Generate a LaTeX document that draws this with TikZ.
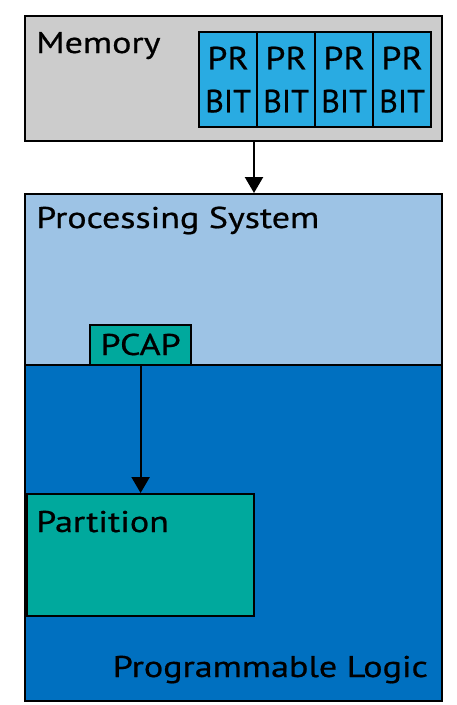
\documentclass[tikz,border=0pt]{standalone}
\usepackage{fontspec}
\setmainfont{PT Sans}[FakeBold=0.6]
\usetikzlibrary{arrows.meta}
\definecolor{memgray}{HTML}{CCCCCC}
\definecolor{bitblue}{HTML}{29ABE2}
\definecolor{psblue}{HTML}{9DC3E5}
\definecolor{plblue}{HTML}{0070C0}
\definecolor{teal}{HTML}{00A99D}
% horizontally widened lettering
\newcommand\widetxt[1]{\scalebox{1.2}[1]{#1}}
\tikzset{
  blk/.style={draw=black, line width=2.2pt, anchor=north west, inner sep=0pt},
  lbl/.style={font=\fontsize{30}{32}\selectfont, inner sep=0pt, text=black},
  bitcell/.style={blk, fill=bitblue, minimum width=58pt, minimum height=95pt,
    font=\fontsize{32}{43}\selectfont, align=center},
  flow/.style={line width=2.2pt, -{Triangle[width=18pt,length=16pt]}}
}
\begin{document}
\begin{tikzpicture}[x=1pt,y=-1pt]
  \useasboundingbox (0,0) rectangle (456,705);
  % memory with the partial bitstreams
  \node[blk, fill=memgray, minimum width=417pt, minimum height=125pt] (mem) at (24,15) {};
  \node[lbl, anchor=base west] (memlbl) at (36,53) {\widetxt{Memory}};
  \foreach \i in {0,...,3} {
    \node[bitcell] (bit\i) at (198+58*\i,31) {\scalebox{1.12}[1]{PR}\\BIT};
  }
  % processing system and programmable logic
  \node[blk, fill=plblue, minimum width=417pt, minimum height=336pt] (pl) at (24,364) {};
  \node[blk, fill=psblue, minimum width=417pt, minimum height=171pt] (ps) at (24,193) {};
  \node[lbl, anchor=base west] (pslbl) at (36,228) {\widetxt{Processing System}};
  \node[lbl, anchor=base east] (pllbl) at (428,677) {\widetxt{Programmable Logic}};
  % configuration port and reconfigurable partition
  \node[blk, fill=teal, minimum width=101pt, minimum height=40pt] (pcap) at (89,324) {};
  \node[lbl, anchor=base] (pcaplbl) at (pcap.center |- 0,355) {\widetxt{PCAP}};
  \node[blk, fill=teal, minimum width=227pt, minimum height=122pt] (part) at (26,493) {};
  \node[lbl, anchor=base west] (partlbl) at (36,532) {\widetxt{Partition}};
  % data flow
  \draw[flow] (mem.south -| 254,0) -- (ps.north -| 254,0);
  \draw[flow] (pcap.south) -- (pcap.south |- part.north);
\end{tikzpicture}
\end{document}
